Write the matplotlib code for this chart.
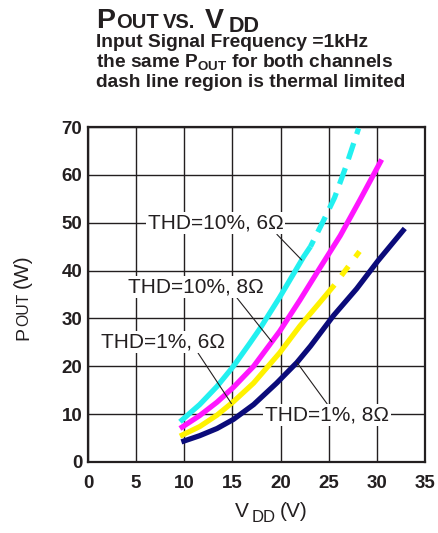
import matplotlib
matplotlib.use('Agg')
import matplotlib.pyplot as plt

plt.rcParams['font.family'] = ['Liberation Sans', 'DejaVu Sans']
plt.rcParams['mathtext.fontset'] = 'custom'
plt.rcParams['mathtext.rm'] = 'Liberation Sans'
plt.rcParams['mathtext.bf'] = 'Liberation Sans:bold'
plt.rcParams['mathtext.it'] = 'Liberation Sans'
plt.rcParams['mathtext.default'] = 'regular'

INK = '#231f20'
W, H = 439, 533

# THD=1%, 8 ohm (navy)
v_1_8 = [9.7, 11.6, 13.4, 15.1, 17.2, 19.6, 21.7, 23.1, 25.5, 27.9, 30.1, 32.9]
p_1_8 = [4.2, 5.5, 7.0, 8.9, 12.0, 16.5, 20.8, 24.2, 30.6, 36.2, 42.0, 48.8]

# THD=1%, 6 ohm (yellow), solid + thermal limited part
v_1_6 = [9.55, 11.6, 13.4, 15.1, 17.2, 19.9, 22.0, 24.1, 25.6]
p_1_6 = [5.4, 7.4, 9.8, 12.6, 16.5, 22.8, 28.4, 33.4, 37.0]
v_1_6_th = [25.6, 26.9, 28.2]
p_1_6_th = [37.0, 40.5, 44.0]

# THD=10%, 8 ohm (magenta)
v_10_8 = [9.55, 11.6, 13.4, 15.1, 17.2, 19.9, 22.0, 24.1, 26.2, 28.2, 30.5]
p_10_8 = [7.0, 9.7, 12.5, 15.6, 20.0, 27.3, 33.8, 40.6, 47.3, 54.6, 63.2]

# THD=10%, 6 ohm (cyan), solid + thermal limited part
v_10_6 = [9.55, 11.6, 13.4, 15.1, 16.8, 17.9, 19.9, 22.4, 23.1]
p_10_6 = [8.4, 12.0, 15.8, 20.0, 24.8, 28.0, 34.4, 42.9, 45.0]
v_10_6_th = [23.1, 24.4, 25.6, 26.8, 28.1]
p_10_6_th = [45.0, 50.2, 55.2, 61.8, 69.7]

x_ticks = [0, 5, 10, 15, 20, 25, 30, 35]
y_ticks = [0, 10, 20, 30, 40, 50, 60, 70]

fig = plt.figure(figsize=(W / 100, H / 100), dpi=100)
ax = fig.add_axes([88 / W, 1 - 462 / H, 337 / W, 335 / H])


def ftext(x, y, s, size, weight='normal', **kw):
    """text placed by pixel position (baseline)"""
    fig.text(x / W, 1 - y / H, s, fontsize=size, fontweight=weight,
             color=INK, va='baseline', ha='left', **kw)


lw = 3.8
cyan, magenta, yellow, navy = '#22f0f0', '#ff16ff', '#fff200', '#0b0b7a'
ax.plot(v_10_6, p_10_6, color=cyan, lw=lw, solid_capstyle='butt', zorder=3)
ax.plot(v_10_6_th, p_10_6_th, color=cyan, lw=lw, ls=(1.9, (3.2, 1.8)),
        dash_capstyle='butt', zorder=3)
ax.plot(v_10_8, p_10_8, color=magenta, lw=lw, solid_capstyle='butt', zorder=3)
ax.plot(v_1_6, p_1_6, color=yellow, lw=lw, solid_capstyle='butt', zorder=3)
ax.plot(v_1_6_th, p_1_6_th, color=yellow, lw=lw, ls=(2.2, (2.2, 2.2)),
        dash_capstyle='butt', zorder=3)
ax.plot(v_1_8, p_1_8, color=navy, lw=lw, solid_capstyle='butt', zorder=3)

ax.set_xlim(0, 35)
ax.set_ylim(0, 70)
ax.set_xticks(x_ticks)
ax.set_yticks(y_ticks)
ax.tick_params(length=0, labelsize=13.5, colors=INK)
ax.tick_params(axis='x', pad=9)
ax.tick_params(axis='y', pad=4)
for lab in ax.get_xticklabels() + ax.get_yticklabels():
    lab.set_fontweight('bold')
ax.grid(True, color=INK, lw=1.0)
for s in ax.spines.values():
    s.set_color(INK)
    s.set_linewidth(1.6)

# curve labels with leader lines
box = dict(boxstyle='square,pad=0.08', fc='white', ec='none')
labels = [
    ('THD=10%, 6Ω', (6.2, 49.9), (22.2, 42.2), (0.94, 0.0)),
    ('THD=10%, 8Ω', (4.2, 36.6), (19.1, 25.1), (0.79, 0.0)),
    ('THD=1%, 6Ω', (1.4, 25.1), (14.9, 12.2), (0.77, 0.0)),
    ('THD=1%, 8Ω', (18.4, 9.8), (21.7, 20.8), (0.51, 1.0)),
]
for txt, pos, tip, rel in labels:
    ax.annotate(txt, xy=tip, xytext=pos, fontsize=15, color=INK,
                va='center', ha='left', bbox=box, zorder=4,
                arrowprops=dict(arrowstyle='-', lw=0.8, color=INK,
                                shrinkA=0, shrinkB=0, relpos=rel))

# title block
ftext(96, 28.5, 'P', 20.5, 'bold')
ftext(116, 28.5, 'OUT', 14.5, 'bold')
ftext(163, 28.5, 'VS.', 14.5, 'bold')
ftext(205, 28.5, 'V', 20.5, 'bold')
ftext(229, 31.5, 'DD', 15.5, 'bold')
ftext(96, 46.7, 'Input Signal Frequency =1kHz', 13.8, 'bold')
ftext(96, 67, r'the same P$_{\mathbf{OUT}}$ for both channels', 13.8, 'bold')
ftext(96, 87.3, 'dash line region is thermal limited', 13.8, 'bold')

# axis labels
ftext(235, 516.7, 'V', 15)
ftext(252, 522, 'DD', 12)
ftext(280, 516.7, '(V)', 15)
for y, s, size in [(340, 'P', 14), (326, 'OUT', 11.3), (288, '(W)', 15)]:
    fig.text(28 / W, 1 - y / H, s, fontsize=size, color=INK, rotation=90,
             rotation_mode='anchor', ha='left', va='baseline')

fig.savefig('out.png', dpi=100)
